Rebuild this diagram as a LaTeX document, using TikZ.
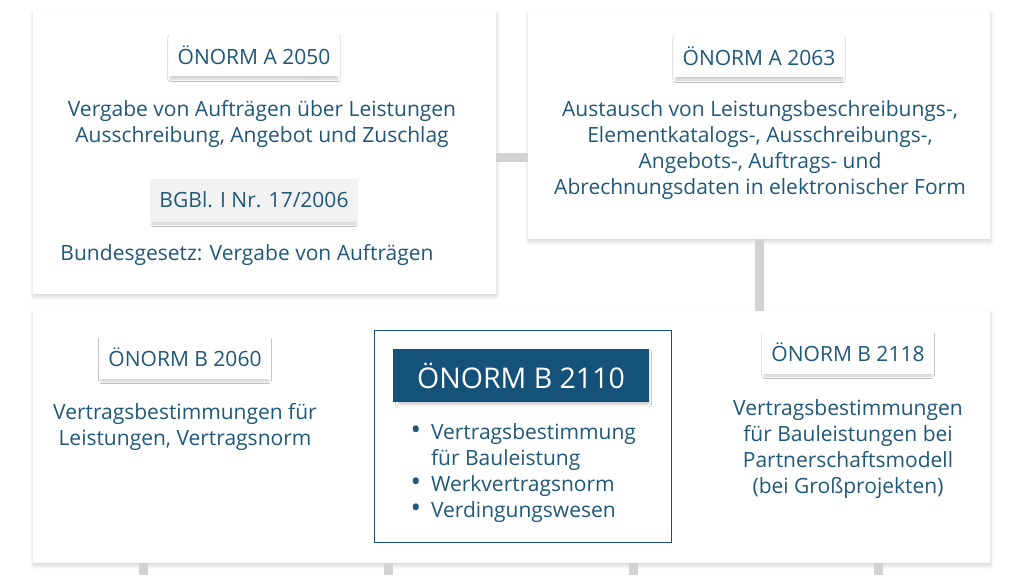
\documentclass[tikz,border=0pt]{standalone}
\usepackage{fontspec}
\setmainfont{Open Sans}
\usetikzlibrary{shadows.blur}
\definecolor{normblue}{HTML}{1F5878}
\definecolor{darkblue}{HTML}{15527A}
\definecolor{linkgray}{HTML}{D2D2D2}
\tikzstyle{panel}=[fill=white, blur shadow={shadow blur steps=8, shadow blur radius=4pt, shadow xshift=0.5pt, shadow yshift=-2.5pt, shadow opacity=18}]
\tikzstyle{tag}=[fill=white, minimum height = 43, inner xsep = 9, blur shadow={shadow blur steps=6, shadow blur radius=2.5pt, shadow scale=0.98, shadow xshift=0pt, shadow yshift=-3pt, shadow opacity=20}]
\tikzstyle{info}=[align=center, text=normblue]
\tikzstyle{link}=[draw=linkgray, line width = 9]

\begin{document}
\begin{tikzpicture}[x=1pt, y=-1pt, font=\fontsize{21}{26}\selectfont]
\useasboundingbox (0,0) rectangle (1024,575);
\draw(264.5,152.5) node[panel, minimum width = 463, minimum height = 283](boxA){};
\draw(759,125) node[panel, minimum width = 462, minimum height = 228](boxB){};
\draw(511.5,437) node[panel, minimum width = 957, minimum height = 252](boxC){};
\draw (boxA.east |- 0,157) -- (boxB.west |- 0,157) [link]; \draw[link] (boxB.south) -- (boxB.south |- boxC.north);
\foreach \x in {143,388,633,878}{
  \coordinate (end\x) at (\x,575);
  \draw[link] (boxC.south -| end\x) -- (end\x);
}
%
\draw (254,55) node[tag, text=normblue](a2050){ÖNORM A 2050};
\draw (262,124) node[info](vergabe){Vergabe von Aufträgen über Leistungen\\Ausschreibung, Angebot und Zuschlag};
\draw (254,200) node[tag, fill=black!5, text=normblue](bgbl){BGBl. I Nr. 17/2006};
\draw (247,255) node[info](bundes){Bundesgesetz: Vergabe von Aufträgen};
%
\draw (759,56) node[tag, text=normblue](a2063){ÖNORM A 2063};
\draw (760,150) node[info](austausch){Austausch von Leistungsbeschreibungs-,\\Elementkatalogs-, Ausschreibungs-,\\Angebots-, Auftrags- und\\Abrechnungsdaten in elektronischer Form};
%
\draw (185,357) node[tag, text=normblue](b2060){ÖNORM B 2060};
\draw (185,427) node[info](vertrag){Vertragsbestimmungen für\\Leistungen, Vertragsnorm};
%
\draw (522.5,436) node[draw=darkblue, fill=white, minimum width = 297, minimum height = 212](kern){};
\draw (521,375.5) node[fill=darkblue, text=white, minimum width = 256, minimum height = 53,
  font=\fontsize{28.5}{30}\selectfont, blur shadow={shadow blur steps=6, shadow blur radius=2.5pt, shadow scale=0.98, shadow yshift=-3pt, shadow opacity=20}](b2110){ÖNORM B 2110};
\draw (407,473) node[anchor=west, text=normblue](punkte){\begin{tabular}{@{}l@{\hspace{10pt}}l@{}}
  {\fontsize{28}{26}\selectfont •} & Vertragsbestimmung\\ & für Bauleistung\\ {\fontsize{28}{26}\selectfont •} & Werkvertragsnorm\\ {\fontsize{28}{26}\selectfont •} & Verdingungswesen\end{tabular}};
%
\draw (848,352) node[tag, text=normblue](b2118){ÖNORM B 2118};
\draw (848,449) node[info](partner){Vertragsbestimmungen\\für Bauleistungen bei\\Partnerschaftsmodell\\(bei Großprojekten)};
\end{tikzpicture}
\end{document}
